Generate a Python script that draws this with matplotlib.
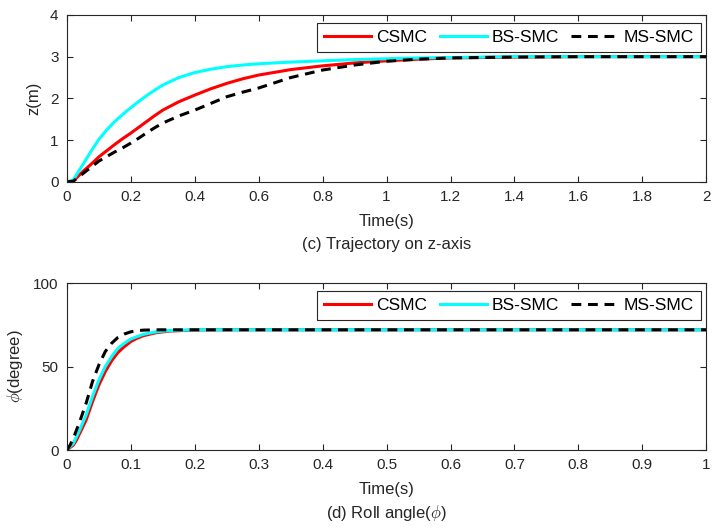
import numpy as np
import matplotlib.pyplot as plt

plt.rcParams['font.family'] = ['Liberation Sans', 'DejaVu Sans']
plt.rcParams['mathtext.fontset'] = 'cm'

# z-axis trajectory
t_z = [0, 0.02, 0.05, 0.075, 0.1, 0.125, 0.15, 0.175, 0.2, 0.225, 0.25, 0.275,
       0.3, 0.35, 0.4, 0.45, 0.5, 0.55, 0.6, 0.7, 0.8, 0.9, 1.0, 1.1, 1.2,
       1.4, 1.6, 1.8, 2.0]
z_csmc = [0, 0.02, 0.25, 0.42, 0.6, 0.75, 0.9, 1.04, 1.17, 1.31, 1.45, 1.59,
          1.72, 1.92, 2.08, 2.23, 2.36, 2.47, 2.56, 2.69, 2.78, 2.85, 2.9,
          2.94, 2.97, 2.99, 3.0, 3.0, 3.0]
z_bssmc = [0, 0.05, 0.42, 0.73, 1.02, 1.25, 1.45, 1.62, 1.78, 1.93, 2.07, 2.2,
           2.32, 2.5, 2.62, 2.7, 2.76, 2.8, 2.83, 2.87, 2.9, 2.93, 2.95,
           2.97, 2.98, 3.0, 3.0, 3.0, 3.0]
z_mssmc = [0, 0.02, 0.2, 0.35, 0.5, 0.61, 0.72, 0.82, 0.93, 1.05, 1.18, 1.3,
           1.41, 1.58, 1.72, 1.88, 2.04, 2.15, 2.25, 2.5, 2.68, 2.8, 2.89,
           2.94, 2.97, 2.99, 3.0, 3.0, 3.0]

# roll angle
t_phi = [0, 0.005, 0.01, 0.015, 0.02, 0.03, 0.04, 0.05, 0.06, 0.07, 0.08,
         0.09, 0.1, 0.11, 0.12, 0.14, 0.16, 0.2, 0.25, 0.3, 0.5, 1.0]
phi_csmc = [0, 1.5, 3, 6, 10, 18, 29, 39, 47, 53.5, 58.5, 62, 65, 67, 68.5,
            70.3, 71.2, 71.9, 72, 72, 72, 72]
phi_bssmc = [0, 2, 4, 8, 12, 21, 32, 42, 50, 56, 61, 64, 66.5, 68, 69.3,
             70.8, 71.5, 72, 72, 72, 72, 72]
phi_mssmc = [0, 3, 7, 12, 17, 28, 41, 51, 59, 64, 67.5, 69.5, 70.8, 71.5,
             71.8, 72, 72, 72, 72, 72, 72, 72]

labels = ['CSMC', 'BS-SMC', 'MS-SMC']
axc = '#262626'
W, H = 712, 532


def style(ax):
    for s in ax.spines.values():
        s.set_color(axc)
        s.set_linewidth(0.8)
    ax.tick_params(direction='in', top=True, right=True, colors=axc,
                   labelsize=11, length=4, pad=6)


def draw(ax, t, ys):
    ax.plot(t, ys[0], color='#ff0000', lw=2.2, label=labels[0])
    ax.plot(t, ys[1], color='#00ffff', lw=2.2, label=labels[1])
    ax.plot(t, ys[2], color='black', lw=2.2, ls=(0, (3.2, 2.2)), label=labels[2])
    leg = ax.legend(loc='upper right', ncol=3, fontsize=12.5, handlelength=2.7,
                    columnspacing=0.7, handletextpad=0.3, borderpad=0.4,
                    borderaxespad=0, fancybox=False, framealpha=1,
                    bbox_to_anchor=(0.991, 0.952))
    leg.get_frame().set_edgecolor(axc)
    leg.get_frame().set_linewidth(0.8)


fig = plt.figure(figsize=(W / 100, H / 100), dpi=100)
cx = 0.094 + 0.898 / 2

ax1 = fig.add_axes([0.094, 0.658, 0.898, 0.314])
draw(ax1, t_z, [z_csmc, z_bssmc, z_mssmc])
ax1.set_xlim(0, 2)
ax1.set_ylim(0, 4)
ax1.set_xticks(np.arange(0, 2.01, 0.2))
ax1.set_xticklabels(['0', '0.2', '0.4', '0.6', '0.8', '1', '1.2', '1.4', '1.6', '1.8', '2'])
ax1.set_yticks([0, 1, 2, 3, 4])
ax1.set_ylabel('z(m)', fontsize=12, color=axc, labelpad=6)
ax1.set_xlabel('Time(s)', fontsize=12, color=axc, labelpad=7)
style(ax1)
fig.text(cx, 1 - 245 / H, '(c) Trajectory on z-axis', fontsize=12, color=axc,
         ha='center', va='center')

ax2 = fig.add_axes([0.094, 0.154, 0.898, 0.314])
draw(ax2, t_phi, [phi_csmc, phi_bssmc, phi_mssmc])
ax2.set_xlim(0, 1)
ax2.set_ylim(0, 100)
ax2.set_xticks(np.arange(0, 1.01, 0.1))
ax2.set_xticklabels(['0', '0.1', '0.2', '0.3', '0.4', '0.5', '0.6', '0.7', '0.8', '0.9', '1'])
ax2.set_yticks([0, 50, 100])
ax2.set_ylabel(r'$\phi$(degree)', fontsize=12, color=axc, labelpad=6)
ax2.set_xlabel('Time(s)', fontsize=12, color=axc, labelpad=7)
style(ax2)
fig.text(cx, 1 - 513 / H, r'(d) Roll angle($\phi$)', fontsize=12, color=axc,
         ha='center', va='center')

fig.savefig('out.png', dpi=100)
